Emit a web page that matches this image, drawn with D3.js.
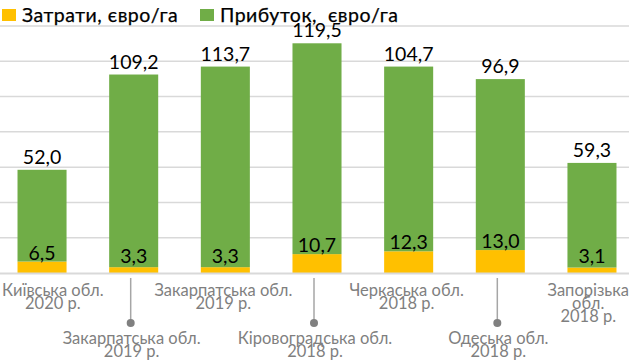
<!DOCTYPE html>
<html><head><meta charset="utf-8">
<script src="https://cdn.jsdelivr.net/npm/d3@7"></script>
<style>
html,body{margin:0;padding:0;background:#fff;}
svg{display:block;font-family:Lato,"Noto Sans",sans-serif;}
</style></head>
<body>
<svg id="chart" width="629" height="364"></svg>
<script>
const categories = [
  "Київська обл.\n2020 р.",
  "Закарпатська обл.\n2019 р.",
  "Закарпатська обл.\n2019 р.",
  "Кіровоградська обл.\n2018 р.",
  "Черкаська обл.\n2018 р.",
  "Одеська обл.\n2018 р.",
  "Запорізька\nобл.\n2018 р."
];
const costs  = [6.5, 3.3, 3.3, 10.7, 12.3, 13.0, 3.1];
const profit = [52.0, 109.2, 113.7, 119.5, 104.7, 96.9, 59.3];
const seriesNames = ["Затрати, євро/га", "Прибуток,\u00a0 євро/га"];
const yTicks = [0, 20, 40, 60, 80, 100, 120, 140];

const W = 629, H = 364;
const svg = d3.select("#chart");
const GREEN = "#70ad47", YELLOW = "#ffc000";

const x = d3.scaleBand().domain(d3.range(categories.length))
  .range([-3.8, 637.8]).paddingInner(0.465).paddingOuter(0.2325);
const y = d3.scaleLinear().domain([0, 140]).range([273, 26]);

// gridlines
svg.append("g").selectAll("line").data(yTicks.slice(1)).join("line")
  .attr("x1", 0).attr("x2", W)
  .attr("y1", d => y(d)).attr("y2", d => y(d))
  .attr("stroke", "#d9d9d9").attr("stroke-width", 1.5);

// bars
const g = svg.append("g");
categories.forEach((c, i) => {
  const bx = x(i), bw = x.bandwidth();
  g.append("rect").attr("x", bx).attr("width", bw)
    .attr("y", y(costs[i])).attr("height", y(0) - y(costs[i])).attr("fill", YELLOW);
  g.append("rect").attr("x", bx).attr("width", bw)
    .attr("y", y(costs[i] + profit[i])).attr("height", y(costs[i]) - y(costs[i] + profit[i]))
    .attr("fill", GREEN);
  const cx = bx + bw / 2;
  g.append("text").attr("x", cx).attr("y", y(costs[i] + profit[i]) - 6)
    .attr("text-anchor", "middle").attr("font-size", 19.5).attr("fill", "#000")
    .text(profit[i].toFixed(1).replace(".", ","));
  g.append("text").attr("x", cx).attr("y", Math.min(y(costs[i]) - 2, 263))
    .attr("text-anchor", "middle").attr("font-size", 19.5).attr("fill", "#000")
    .text(costs[i].toFixed(1).replace(".", ","));
});

// axis line
svg.append("line").attr("x1", 0).attr("x2", W).attr("y1", y(0) + 0.5).attr("y2", y(0) + 0.5)
  .attr("stroke", "#d9d9d9").attr("stroke-width", 2);

// category labels
const lab = svg.append("g");
categories.forEach((c, i) => {
  const cx = x(i) + x.bandwidth() / 2 - 2;
  const low = i % 2 === 1;
  const lines = c.split("\n");
  if (low) {
    lab.append("line").attr("x1", cx - 1).attr("x2", cx - 1).attr("y1", 278).attr("y2", 323)
      .attr("stroke", "#a6a6a6").attr("stroke-width", 1.5);
    lab.append("circle").attr("cx", cx - 1).attr("cy", 323).attr("r", 4).attr("fill", "#808080");
  }
  const base = low ? 344 : 296;
  const t = lab.append("text").attr("text-anchor", "middle")
    .attr("font-size", 16.5).attr("fill", "#7f7f7f");
  lines.forEach((l, k) => {
    t.append("tspan").attr("x", cx).attr("y", base + k * 13).text(l);
  });
  const bb = t.node().getBBox();
  let dx = 0;
  if (bb.x < 2) dx = 2 - bb.x;
  if (bb.x + bb.width > W) dx = W - (bb.x + bb.width);
  if (dx) t.attr("transform", `translate(${dx},0)`);
});

// legend
const leg = svg.append("g");
[[YELLOW, 2, 22], [GREEN, 200, 220]].forEach((d, i) => {
  leg.append("rect").attr("x", d[1]).attr("y", 9).attr("width", 14).attr("height", 12).attr("fill", d[0]);
  leg.append("text").attr("x", d[2]).attr("y", 21.5).attr("font-size", 19.5).attr("fill", "#000")
    .attr("letter-spacing", 0.5).attr("stroke", "#000").attr("stroke-width", 0.25)
    .attr("xml:space", "preserve").style("white-space", "pre").text(seriesNames[i]);
});
</script>
</body></html>
